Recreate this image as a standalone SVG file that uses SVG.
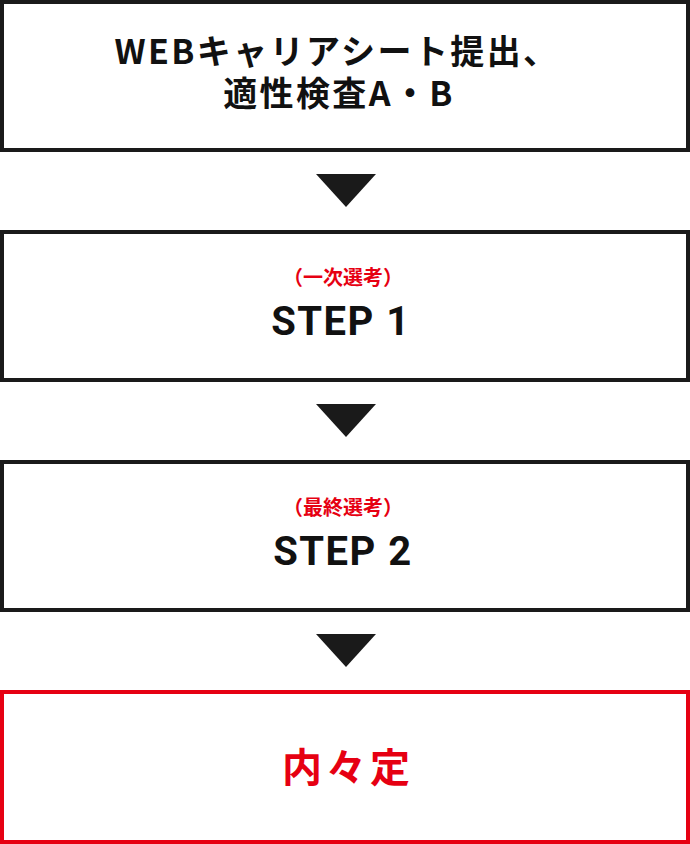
<svg xmlns="http://www.w3.org/2000/svg" width="690" height="844" viewBox="0 0 690 844">
<style>
.box{fill:#fff;stroke:#1a1a1a;stroke-width:4}
.final{fill:#fff;stroke:#e60012;stroke-width:4}
.t{font-family:"Noto Sans CJK JP","Noto Sans",sans-serif;font-weight:700;fill:#111;text-anchor:middle;font-size:34px;letter-spacing:2.4px}
.red{font-family:"Noto Sans CJK JP",sans-serif;font-weight:700;fill:#e60012;text-anchor:middle;font-size:40px;letter-spacing:4px}
.lbl{font-family:"Noto Sans CJK JP",sans-serif;font-weight:700;fill:#e60012;text-anchor:middle;font-size:20px}
.step{font-family:Roboto,"Noto Sans",sans-serif;font-weight:700;fill:#111;text-anchor:middle;font-size:40px;letter-spacing:1.5px}
.arr{fill:#1a1a1a}
</style>
<rect width="690" height="844" fill="#fff"/>
<g id="node-web">
<rect class="box" x="2" y="2" width="686" height="148"/>
<text class="t" x="337" y="64">WEBキャリアシート提出、</text>
<text class="t" x="339" y="106">適性検査A・B</text>
</g>
<g id="node-step1">
<rect class="box" x="2" y="232" width="686" height="148"/>
<text class="lbl" x="343" y="285">（一次選考）</text>
<text class="step" x="341" y="335">STEP 1</text>
</g>
<g id="node-step2">
<rect class="box" x="2" y="462" width="686" height="148"/>
<text class="lbl" x="343" y="515">（最終選考）</text>
<text class="step" x="343" y="565">STEP 2</text>
</g>
<g id="node-final">
<rect class="final" x="2" y="692" width="686" height="150"/>
<text class="red" x="348" y="782">内々定</text>
</g>
<g id="connectors">
<polygon class="arr" points="316,174 376,174 346,207"/>
<polygon class="arr" points="316,404 376,404 346,437"/>
<polygon class="arr" points="316,634 376,634 346,667"/>
</g>
</svg>
